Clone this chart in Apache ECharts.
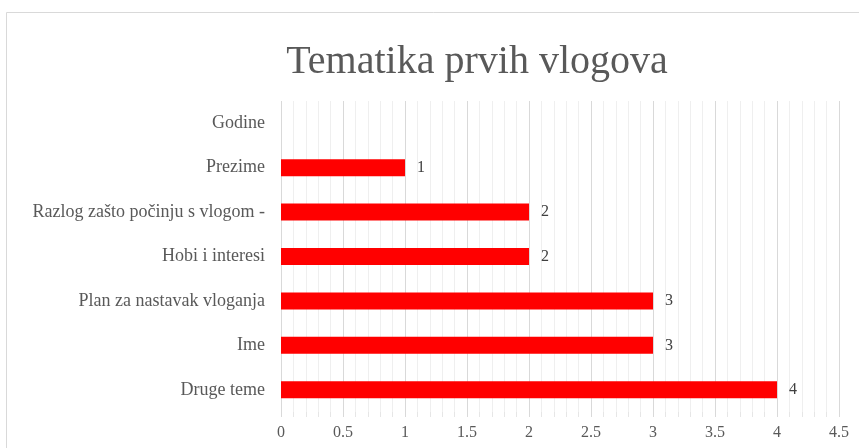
<!DOCTYPE html>
<html><head><meta charset="utf-8">
<script src="https://cdn.jsdelivr.net/npm/echarts@6/dist/echarts.min.js"></script>
<style>html,body{margin:0;padding:0;background:#fff}#c{width:859px;height:448px}</style>
</head><body><div id="c"></div>
<script>
const categories = ['Druge teme','Ime','Plan za nastavak vloganja','Hobi i interesi','Razlog zašto počinju s vlogom -','Prezime','Godine'];
const values = [4,3,3,2,2,1,null];
const xTicks = {min:0,max:4.5,interval:0.5};
const chart = echarts.init(document.getElementById('c'));
const serif = '"Liberation Serif","Times New Roman",serif';
chart.setOption({
  backgroundColor:'#fff',
  animation:false,
  title:{text:'Tematika prvih vlogova',left:472,top:37,textAlign:'center',
    textStyle:{fontFamily:serif,fontSize:40,fontWeight:'normal',color:'#595959'}},
  graphic:[{type:'rect',shape:{x:6.5,y:12.5,width:900,height:500},style:{fill:'none',stroke:'#d9d9d9',lineWidth:1}}],
  grid:{left:281,right:20,top:101,bottom:36},
  xAxis:{type:'value',min:xTicks.min,max:xTicks.max,interval:xTicks.interval,
    axisLine:{show:false},
    axisTick:{show:true,length:5,lineStyle:{color:'#d9d9d9'}},
    minorTick:{show:true,splitNumber:5,length:5,lineStyle:{color:'#e6e6e6'}},
    splitLine:{show:true,lineStyle:{color:'#d9d9d9'}},
    minorSplitLine:{show:true,lineStyle:{color:'#efefef'}},
    axisLabel:{fontFamily:serif,fontSize:16,color:'#595959',margin:13}},
  yAxis:{type:'category',data:categories,
    axisLine:{show:false},axisTick:{show:false},
    axisLabel:{fontFamily:serif,fontSize:18,color:'#595959',margin:16}},
  series:[{type:'bar',data:values,barWidth:17,
    itemStyle:{color:'#ff0000'},
    label:{show:true,position:'right',distance:12,fontFamily:serif,fontSize:16,color:'#404040'}}]
});
</script></body></html>
